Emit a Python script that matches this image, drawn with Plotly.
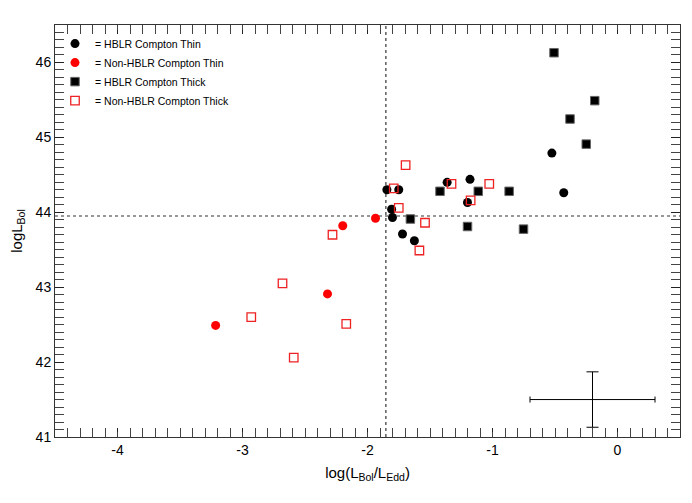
import plotly.graph_objects as go

# HBLR Compton Thin (black filled circles)
hblr_thin_x = [-1.845, -1.75, -1.807, -1.80, -1.72, -1.625, -1.363, -1.18, -1.20, -0.525, -0.43]
hblr_thin_y = [44.30, 44.30, 44.04, 43.93, 43.71, 43.62, 44.40, 44.44, 44.13, 44.79, 44.26]

# Non-HBLR Compton Thin (red filled circles)
nonhblr_thin_x = [-1.936, -2.198, -2.32, -3.215]
nonhblr_thin_y = [43.92, 43.82, 42.91, 42.49]

# HBLR Compton Thick (black filled squares)
hblr_thick_x = [-0.508, -0.182, -0.38, -0.25, -0.867, -1.114, -1.42, -1.657, -1.20, -0.752]
hblr_thick_y = [46.13, 45.49, 45.245, 44.91, 44.28, 44.28, 44.28, 43.91, 43.81, 43.775]

# Non-HBLR Compton Thick (red open squares)
nonhblr_thick_x = [-1.695, -1.79, -1.75, -1.328, -1.175, -1.026, -1.54, -1.585,
                   -2.28, -2.68, -2.93, -2.17, -2.59]
nonhblr_thick_y = [44.63, 44.32, 44.06, 44.38, 44.16, 44.38, 43.86, 43.49,
                   43.70, 43.05, 42.60, 42.51, 42.06]

# typical error bar
err_x, err_y = [-0.2], [41.5]
err_dx, err_dy = [0.5], [0.37]

# reference lines
vline_x = -1.853
hline_y = 43.95

x_range = [-4.5, 0.5]
y_range = [41, 46.5]

x_tickvals = [-4, -3, -2, -1, 0]
x_ticktext = ["-4", "-3", "-2", "-1", "0"]
y_tickvals = [41, 42, 43, 44, 45, 46]
y_ticktext = ["41", "42", "43", "44", "45", "46"]
minor_step = 0.1

font = "Liberation Sans, Arial, Helvetica, sans-serif"

fig = go.Figure()

fig.add_trace(go.Scatter(
    x=hblr_thin_x, y=hblr_thin_y, mode="markers", name="= HBLR Compton Thin",
    marker=dict(symbol="circle", size=9, color="black", line=dict(width=0))))
fig.add_trace(go.Scatter(
    x=nonhblr_thin_x, y=nonhblr_thin_y, mode="markers", name="= Non-HBLR Compton Thin",
    marker=dict(symbol="circle", size=9, color="red", line=dict(width=0))))
fig.add_trace(go.Scatter(
    x=hblr_thick_x, y=hblr_thick_y, mode="markers", name="= HBLR Compton Thick",
    marker=dict(symbol="square", size=8.5, color="black", line=dict(width=1, color="#666"))))
fig.add_trace(go.Scatter(
    x=nonhblr_thick_x, y=nonhblr_thick_y, mode="markers", name="= Non-HBLR Compton Thick",
    marker=dict(symbol="square-open", size=8.5, color="#ee2222", line=dict(width=1.3))))

fig.add_trace(go.Scatter(
    x=err_x, y=err_y, mode="markers", showlegend=False,
    marker=dict(size=1, color="black"),
    error_x=dict(type="data", array=err_dx, color="black", thickness=1, width=3),
    error_y=dict(type="data", array=err_dy, color="black", thickness=1, width=6)))

# empty traces so that the overlay (minor-tick) axes get their own subplots
for xa, ya in [("x2", "y"), ("x3", "y"), ("x", "y2"), ("x", "y3")]:
    fig.add_trace(go.Scatter(x=[], y=[], xaxis=xa, yaxis=ya, mode="markers",
                             showlegend=False, hoverinfo="skip"))

fig.add_shape(type="line", x0=vline_x, x1=vline_x, y0=y_range[0], y1=y_range[1],
              line=dict(color="#333", width=1.2, dash="dot"), layer="below")
fig.add_shape(type="line", x0=x_range[0], x1=x_range[1], y0=hline_y, y1=hline_y,
              line=dict(color="#333", width=1.2, dash="dot"), layer="below")

axis_common = dict(
    showgrid=False, zeroline=False, showline=True, linecolor="#333", linewidth=1,
    mirror="allticks", ticks="inside", ticklen=9, tickcolor="#222", tickwidth=1,
    tickfont=dict(family=font, size=14, color="black"), automargin=False,
    minor=dict(ticks="inside", ticklen=5, tickcolor="#444", tickwidth=1,
               tickmode="linear", dtick=minor_step, showgrid=False),
)

# overlay axes used to draw the minor tick marks on all four sides
minor_common = dict(
    showgrid=False, zeroline=False, showline=False, showticklabels=False,
    ticks="inside", ticklen=5, tickcolor="#444", tickwidth=1,
    tickmode="linear", dtick=minor_step, automargin=False, fixedrange=True,
)

# page body has an 8px margin, so the figure is offset by 8px in the window
fig.update_layout(
    width=684, height=495,
    margin=dict(l=47, r=12, t=17, b=66),
    paper_bgcolor="white", plot_bgcolor="white",
    font=dict(family=font, color="black"),
    xaxis=dict(range=x_range, tickmode="array", tickvals=x_tickvals, ticktext=x_ticktext,
               **axis_common,
               title=dict(text="log(L<sub>Bol</sub>/L<sub>Edd</sub>)",
                          font=dict(family=font, size=15), standoff=10)),
    yaxis=dict(range=y_range, tickmode="array", tickvals=y_tickvals, ticktext=y_ticktext,
               **axis_common,
               title=dict(text="logL<sub>Bol</sub>",
                          font=dict(family=font, size=15), standoff=9)),
    xaxis2=dict(range=x_range, tick0=x_range[0], overlaying="x", anchor="y", side="bottom", **minor_common),
    xaxis3=dict(range=x_range, tick0=x_range[0], overlaying="x", anchor="y", side="top", **minor_common),
    yaxis2=dict(range=y_range, tick0=y_range[0], overlaying="y", anchor="x", side="left", **minor_common),
    yaxis3=dict(range=y_range, tick0=y_range[0], overlaying="y", anchor="x", side="right", **minor_common),
    legend=dict(x=0.0, y=0.99, xanchor="left", yanchor="top",
                bgcolor="rgba(0,0,0,0)", borderwidth=0,
                font=dict(family=font, size=10.5, color="black"),
                itemwidth=30, tracegroupgap=0),
    showlegend=True,
)

fig.write_html("out.html")
